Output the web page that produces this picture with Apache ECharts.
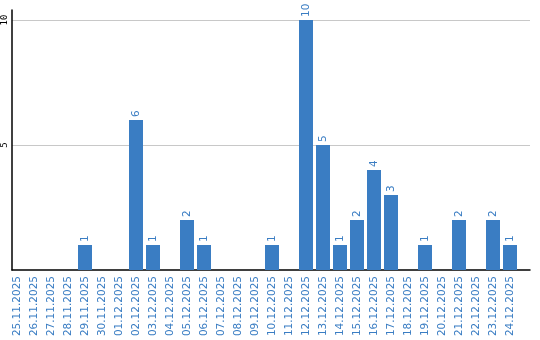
<!DOCTYPE html>
<html><head><meta charset="utf-8">
<script src="https://cdn.jsdelivr.net/npm/echarts@6/dist/echarts.min.js"></script>
<style>html,body{margin:0;padding:0;background:#fff}#c{width:540px;height:340px}</style>
</head><body><div id="c"></div>
<script>
var categories = ["25.11.2025","26.11.2025","27.11.2025","28.11.2025","29.11.2025","30.11.2025","01.12.2025","02.12.2025","03.12.2025","04.12.2025","05.12.2025","06.12.2025","07.12.2025","08.12.2025","09.12.2025","10.12.2025","11.12.2025","12.12.2025","13.12.2025","14.12.2025","15.12.2025","16.12.2025","17.12.2025","18.12.2025","19.12.2025","20.12.2025","21.12.2025","22.12.2025","23.12.2025","24.12.2025"];
var values = [0,0,0,0,1,0,0,6,1,0,2,1,0,0,0,1,0,10,5,1,2,4,3,0,1,0,2,0,2,1];
var yTicks = [5, 10];

var blue = '#3a7dc3';
var chart = echarts.init(document.getElementById('c'), null, {renderer:'canvas'});
chart.setOption({
  animation:false,
  grid:[
    {left:10, right:10, top:10, height:260, containLabel:false},
    {left:8.5, width:510, top:10, height:260, containLabel:false}
  ],
  xAxis:[
    {type:'value', gridIndex:0, min:0, max:1, axisLine:{show:true, onZero:false, lineStyle:{color:'#000', width:1.5}}, axisTick:{show:false}, axisLabel:{show:false}, splitLine:{show:false}},
    {type:'category', gridIndex:1, data:categories, axisLine:{show:false}, axisTick:{show:false},
     axisLabel:{interval:0, rotate:90, margin:6, color:blue, fontFamily:'DejaVu Sans', fontSize:10.5}}
  ],
  yAxis:[
    {type:'value', gridIndex:0, min:0, max:10.4, interval:5,
     axisLine:{show:true, lineStyle:{color:'#000', width:1.5}}, axisTick:{show:false},
     axisLabel:{rotate:90, margin:3, color:'#000', fontFamily:'DejaVu Sans Mono', fontSize:9,
       formatter:function(v){return yTicks.indexOf(v)>=0? String(v):'';}},
     splitLine:{show:true, lineStyle:{color:['transparent','#c8c8c8','#c8c8c8','transparent'], width:1}}},
    {type:'value', gridIndex:1, min:0, max:10.4, show:false}
  ],
  series:[{
    type:'bar', xAxisIndex:1, yAxisIndex:1, data:values, barWidth:14,
    itemStyle:{color:blue},
    label:{show:true, position:'top', rotate:90, align:'left', verticalAlign:'middle', distance:3,
      color:blue, fontFamily:'DejaVu Sans', fontSize:10.5,
      formatter:function(p){return p.value>0? String(p.value):'';}}
  }]
});
</script></body></html>
